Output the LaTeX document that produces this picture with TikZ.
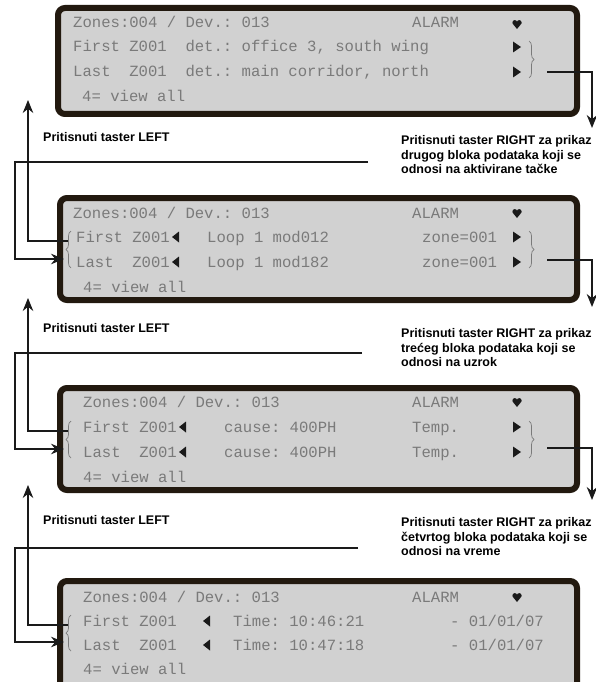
\documentclass[tikz,border=0pt]{standalone}
\usepackage{fontspec}
\setmainfont{Liberation Sans}
\newfontfamily\LcdFont{Liberation Mono}
\usetikzlibrary{arrows.meta, decorations.pathreplacing}
\definecolor{LcdFrame}{HTML}{22190F}
\definecolor{LcdGrey}{HTML}{D1D1D1}
\definecolor{LcdInk}{HTML}{7A7A7A}
\definecolor{SymInk}{HTML}{1A1A1A}
\definecolor{FlowInk}{HTML}{1A1A1A}
\tikzset{
  lcdbox/.style={draw=LcdFrame, line width=6pt, fill=LcdGrey, rounded corners=7pt},
  lcd/.style={font=\LcdFont\fontsize{15.6pt}{18pt}\selectfont\frenchspacing, text=LcdInk,
    inner sep=0pt, anchor=base west},
  lcdbrace/.style={draw=LcdInk, line width=0.7pt, decorate, decoration={brace, amplitude=5pt}},
  keyhint/.style={font=\bfseries\fontsize{12.5pt}{14.7pt}\selectfont, inner sep=0pt, align=left},
  flow/.style={draw=FlowInk, line width=1.3pt},
  flowarrow/.style={flow, -{Stealth[length=13pt, width=10.5pt]}},
}

\begin{document}
\begin{tikzpicture}[x=1pt, y=-1pt]
  \useasboundingbox (0,0) rectangle (596,682);
  \clip (0,0) rectangle (596,682);

  % the four LCD screens
  \draw[lcdbox] (58,8) rectangle (577,114);
  \draw[lcdbox] (60,198) rectangle (577,300);
  \draw[lcdbox] (60,388) rectangle (577,490);
  \draw[lcdbox] (60,581) rectangle (577,700);

  % screen 1: location text
  \node[lcd] (d1zones) at (73,28) {Zones:004 / Dev.: 013};
  \node[lcd] (d1alarm) at (412,28) {ALARM};
  \node[lcd] (d1first) at (73,52) {First Z001~~det.: office 3, south wing};
  \node[lcd] (d1last)  at (73,77) {Last~~Z001~~det.: main corridor, north};
  \node[lcd] (d1view)  at (82,102) {4= view all};

  % screen 2: loop / module
  \node[lcd] (d2zones) at (73,218) {Zones:004 / Dev.: 013};
  \node[lcd] (d2alarm) at (412,218) {ALARM};
  \node[lcd] (d2first) at (76,242) {First Z001};
  \node[lcd] (d2firstmod) at (207,242) {Loop 1 mod012};
  \node[lcd] (d2firstzone) at (422,242) {zone=001};
  \node[lcd] (d2last) at (76,267) {Last~~Z001};
  \node[lcd] (d2lastmod) at (207,267) {Loop 1 mod182};
  \node[lcd] (d2lastzone) at (422,267) {zone=001};
  \node[lcd] (d2view) at (83,292) {4= view all};

  % screen 3: cause
  \node[lcd] (d3zones) at (83,407) {Zones:004 / Dev.: 013};
  \node[lcd] (d3alarm) at (412,407) {ALARM};
  \node[lcd] (d3first) at (83,432) {First Z001};
  \node[lcd] (d3firstcause) at (224,432) {cause: 400PH};
  \node[lcd] (d3firsttype) at (412,432) {Temp.};
  \node[lcd] (d3last) at (83,457) {Last~~Z001};
  \node[lcd] (d3lastcause) at (224,457) {cause: 400PH};
  \node[lcd] (d3lasttype) at (412,457) {Temp.};
  \node[lcd] (d3view) at (83,482) {4= view all};

  % screen 4: time
  \node[lcd] (d4zones) at (83,602) {Zones:004 / Dev.: 013};
  \node[lcd] (d4alarm) at (412,602) {ALARM};
  \node[lcd] (d4first) at (83,626) {First Z001};
  \node[lcd] (d4firsttime) at (233,626) {Time: 10:46:21};
  \node[lcd] (d4firstdate) at (450,626) {- 01/01/07};
  \node[lcd] (d4last) at (83,650) {Last~~Z001};
  \node[lcd] (d4lasttime) at (233,650) {Time: 10:47:18};
  \node[lcd] (d4lastdate) at (450,650) {- 01/01/07};
  \node[lcd] (d4view) at (83,674) {4= view all};

  % lcd glyphs: bell, scroll marks, braces
  \foreach \r in {24.5,213.5,402.5,597.5}{
    \fill[SymInk] (514.8,\r-2) circle (2.4) (519.2,\r-2) circle (2.4)
      (512.5,\r-1) -- (521.5,\r-1) -- (517,\r+4.5) -- cycle;
  }
  \foreach \r in {47,72,237,262,427,452}{
    \fill[SymInk] (513,\r-5.5) -- (521,\r) -- (513,\r+5.5) -- cycle;
  }
  \foreach \x/\r in {172/237,172/262,179/427,179/452,203/621,203/645}{
    \fill[SymInk] (\x+7,\r-5.5) -- (\x,\r) -- (\x+7,\r+5.5) -- cycle;
  }
  \foreach \a/\b in {41/78,231/268,421/458}{
    \draw[lcdbrace] (529,\a) -- (529,\b);
  }
  \foreach \a/\b in {231/268,421/458,615/651}{
    \draw[lcdbrace] (71,\b) -- (71,\a);
  }

  % key hints between the screens
  \node[keyhint, anchor=west] (left1) at (43,137) {Pritisnuti taster LEFT};
  \node[keyhint, anchor=west] (left2) at (43,328) {Pritisnuti taster LEFT};
  \node[keyhint, anchor=west] (left3) at (43,520) {Pritisnuti taster LEFT};
  \node[keyhint, anchor=north west] (right1) at (401,135.3)
    {Pritisnuti taster RIGHT za prikaz\\drugog bloka podataka koji se\\odnosi na aktivirane tačke};
  \node[keyhint, anchor=north west] (right2) at (401,328.3)
    {Pritisnuti taster RIGHT za prikaz\\trećeg bloka podataka koji se\\odnosi na uzrok};
  \node[keyhint, anchor=north west] (right3) at (401,517.3)
    {Pritisnuti taster RIGHT za prikaz\\četvrtog bloka podataka koji se\\odnosi na vreme};

  % RIGHT key: out of one screen on the right ...
  \coordinate (d1out) at (547,72);   \coordinate (d1down) at (592,128);
  \coordinate (d2out) at (547,260);  \coordinate (d2down) at (592,307);
  \coordinate (d3out) at (547,448);  \coordinate (d3down) at (592,500);
  \draw[flowarrow] (d1out) -| (d1down);
  \draw[flowarrow] (d2out) -| (d2down);
  \draw[flowarrow] (d3out) -| (d3down);

  % ... and into the next one on the left
  \coordinate (r12) at (368,162);  \coordinate (bend12) at (15,162);  \coordinate (d2in) at (64,259);
  \coordinate (r23) at (362,353);  \coordinate (bend23) at (15,353);  \coordinate (d3in) at (64,449);
  \coordinate (r34) at (358,548);  \coordinate (bend34) at (15,548);  \coordinate (d4in) at (64,642);
  \draw[flowarrow] (r12) -- (bend12) |- (d2in);
  \draw[flowarrow] (r23) -- (bend23) |- (d3in);
  \draw[flowarrow] (r34) -- (bend34) |- (d4in);

  % LEFT key: back up to the previous screen
  \coordinate (d2back) at (68,241);  \coordinate (d1up) at (28,100);
  \coordinate (d3back) at (68,431);  \coordinate (d2up) at (28,298);
  \coordinate (d4back) at (68,625);  \coordinate (d3up) at (28,485);
  \draw[flowarrow] (d2back) -| (d1up);
  \draw[flowarrow] (d3back) -| (d2up);
  \draw[flowarrow] (d4back) -| (d3up);
\end{tikzpicture}
\end{document}
